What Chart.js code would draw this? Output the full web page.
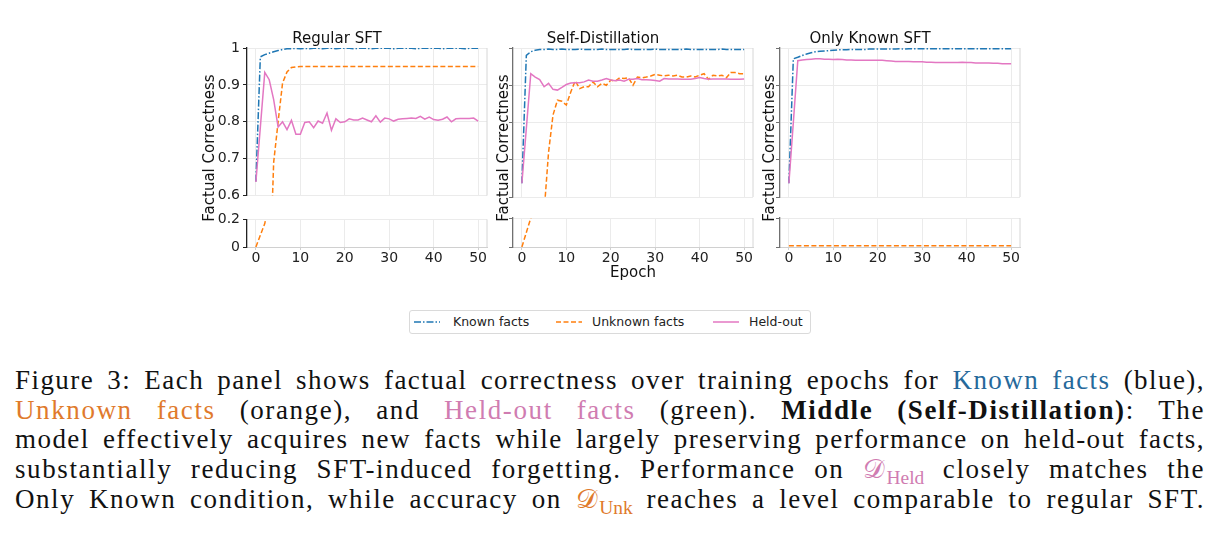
<!DOCTYPE html>
<html>
<head>
<meta charset="utf-8">
<script src="https://cdn.jsdelivr.net/npm/chart.js@4.4.1/dist/chart.umd.min.js"></script>
<style>
  body { margin: 0; background: #fff; width: 1222px; height: 552px; position: relative; overflow: hidden; font-family: "DejaVu Sans", sans-serif; }
  canvas { position: absolute; }
  .ylab { position: absolute; width: 300px; height: 18px; line-height: 18px; text-align: center; font-size: 15px; color: #111; transform: rotate(-90deg); }
  #legend { position: absolute; left: 409px; top: 310px; width: 400px; height: 22px; border: 1px solid #dadada; border-radius: 3px; }
  .lg { position: absolute; top: 0; height: 22px; line-height: 22px; font-size: 12.5px; color: #222; }
  #caption { position: absolute; left: 15px; top: 366px; width: 1190px; font-family: "Liberation Serif", serif; font-size: 27px; line-height: 29.7px; color: #111; }
  .ln { text-align: justify; text-align-last: justify; white-space: nowrap; }
  .kn { color: #26699b; }
  .un { color: #e07a2c; }
  .ho { color: #d07cb1; }
  sub { font-size: 0.72em; vertical-align: -0.3em; line-height: 0; letter-spacing: 0; }
</style>
</head>
<body>

<div id="caption">
  <div class="ln">Figure 3: Each panel shows factual correctness over training epochs for <span class="kn">Known facts</span> (blue),</div>
  <div class="ln"><span class="un">Unknown facts</span> (orange), and <span class="ho">Held-out facts</span> (green). <b>Middle (Self-Distillation)</b>: The</div>
  <div class="ln">model effectively acquires new facts while largely preserving performance on held-out facts,</div>
  <div class="ln">substantially reducing SFT-induced forgetting. Performance on <span class="ho">𝒟<sub>Held</sub></span> closely matches the</div>
  <div class="ln">Only Known condition, while accuracy on <span class="un">𝒟<sub>Unk</sub></span> reaches a level comparable to regular SFT.</div>
</div>

<div id="legend"></div>

<script>
// === DATA ===
const epochs = [0,1,2,3,4,5,6,7,8,9,10,11,12,13,14,15,16,17,18,19,20,21,22,23,24,25,26,27,28,29,30,
                31,32,33,34,35,36,37,38,39,40,41,42,43,44,45,46,47,48,49,50];
const xTickValues = [0, 10, 20, 30, 40, 50];
const upperTickValues = [0.6, 0.7, 0.8, 0.9, 1];
const lowerTickValues = [0, 0.2];
const panelTitles = ['Regular SFT', 'Self-Distillation', 'Only Known SFT'];
const seriesNames = ['Known facts', 'Unknown facts', 'Held-out'];

// Regular SFT
const sftKnown = [0.638,0.976,0.982,0.986,0.990,0.993,0.996,0.998,0.998,0.999,0.998,0.999,0.998,0.999,0.999,0.998,0.999,0.999,0.998,0.999,
                  0.999,0.999,0.998,0.999,0.999,0.999,0.998,0.999,0.999,0.999,0.999,0.998,0.999,0.999,0.999,0.999,0.998,0.999,0.999,0.999,
                  0.999,0.999,0.998,0.999,0.999,0.999,0.999,0.998,0.999,0.999,0.999];
const sftUnknown = [0.0,0.085,0.17,0.33,0.69,0.80,0.905,0.935,0.947,0.949,0.950,0.950,0.950,0.950,0.950,0.950,0.950,0.950,0.950,0.950,
                    0.950,0.950,0.950,0.950,0.950,0.950,0.950,0.950,0.950,0.950,0.950,0.950,0.950,0.950,0.950,0.950,0.950,0.950,0.950,0.950,
                    0.950,0.950,0.950,0.950,0.950,0.950,0.950,0.950,0.950,0.950,0.950];
const sftHeld = [0.637,0.785,0.934,0.914,0.860,0.786,0.800,0.779,0.804,0.766,0.766,0.798,0.800,0.784,0.802,0.796,0.824,0.777,0.808,0.798,
                 0.800,0.808,0.805,0.805,0.810,0.805,0.800,0.816,0.799,0.810,0.808,0.802,0.807,0.808,0.809,0.810,0.809,0.815,0.807,0.813,
                 0.806,0.804,0.807,0.813,0.800,0.808,0.809,0.809,0.809,0.810,0.802];

// Self-Distillation
const sdKnown = [0.637,0.980,0.990,0.994,0.996,0.996,0.997,0.996,0.996,0.997,0.996,0.996,0.996,0.997,0.996,0.996,0.996,0.996,0.997,0.996,
                 0.996,0.996,0.996,0.996,0.997,0.996,0.996,0.996,0.996,0.996,0.997,0.996,0.996,0.996,0.996,0.996,0.996,0.997,0.996,0.996,
                 0.996,0.996,0.996,0.996,0.996,0.997,0.996,0.996,0.996,0.996,0.996];
const sdUnknown = [0.0,0.10,0.20,0.33,0.45,0.56,0.72,0.82,0.860,0.857,0.847,0.882,0.912,0.891,0.896,0.896,0.909,0.896,0.905,0.900,
                   0.914,0.911,0.920,0.918,0.920,0.900,0.922,0.920,0.922,0.925,0.929,0.927,0.925,0.927,0.925,0.927,0.922,0.922,0.925,0.922,
                   0.927,0.931,0.916,0.927,0.925,0.927,0.920,0.934,0.934,0.931,0.931];
const sdHeld = [0.637,0.784,0.931,0.922,0.915,0.896,0.905,0.889,0.887,0.894,0.902,0.906,0.907,0.907,0.909,0.914,0.911,0.911,0.914,0.918,
                0.914,0.912,0.914,0.911,0.916,0.916,0.918,0.915,0.915,0.914,0.913,0.911,0.918,0.917,0.917,0.917,0.916,0.916,0.916,0.918,
                0.921,0.918,0.916,0.917,0.917,0.917,0.917,0.916,0.916,0.916,0.917];

// Only Known SFT
const okKnown = [0.637,0.971,0.975,0.980,0.984,0.987,0.990,0.991,0.992,0.993,0.994,0.995,0.995,0.995,0.996,0.996,0.996,0.996,0.997,0.997,
                 0.997,0.997,0.997,0.997,0.997,0.998,0.997,0.998,0.998,0.998,0.998,0.998,0.998,0.998,0.998,0.998,0.998,0.998,0.998,0.998,
                 0.998,0.998,0.998,0.998,0.998,0.998,0.998,0.998,0.998,0.998,0.998];
const okUnknown = [0.008,0.008,0.008,0.008,0.008,0.008,0.008,0.008,0.008,0.008,0.008,0.008,0.008,0.008,0.008,0.008,0.008,0.008,0.008,0.008,
                   0.008,0.008,0.008,0.008,0.008,0.008,0.008,0.008,0.008,0.008,0.008,0.008,0.008,0.008,0.008,0.008,0.008,0.008,0.008,0.008,
                   0.008,0.008,0.008,0.008,0.008,0.008,0.008,0.008,0.008,0.008,0.008];
const okHeld = [0.637,0.800,0.966,0.968,0.969,0.970,0.971,0.971,0.970,0.970,0.969,0.970,0.969,0.968,0.968,0.967,0.967,0.967,0.967,0.967,
                0.967,0.967,0.966,0.965,0.964,0.964,0.964,0.964,0.963,0.963,0.963,0.962,0.962,0.961,0.961,0.961,0.961,0.961,0.961,0.962,
                0.961,0.961,0.960,0.960,0.960,0.960,0.959,0.959,0.958,0.958,0.958];

// === STYLE ===
const C = { known: '#1f77b4', unknown: '#ff7f0e', held: '#e377c2' };
const DASH = { known: [7, 2, 1.5, 2], unknown: [5, 2.5], held: [] };
const YW = 60, PW = 240, PR = 8, XH = 40;
const FONT = 'DejaVu Sans';

const panels = [
  { title: panelTitles[0], known: sftKnown, unknown: sftUnknown, held: sftHeld, left: 247, yLabels: true,  spine: '#222', xTitle: false, ylabX: 209 },
  { title: panelTitles[1], known: sdKnown,  unknown: sdUnknown,  held: sdHeld,  left: 513, yLabels: false, spine: '#707070', xTitle: true, ylabX: 503 },
  { title: panelTitles[2], known: okKnown,  unknown: okUnknown,  held: okHeld,  left: 780, yLabels: false, spine: '#707070', xTitle: false, ylabX: 769 }
];

// light right spine
const rightSpine = {
  id: 'rightSpine',
  beforeDatasetsDraw(chart) {
    const a = chart.chartArea, ctx = chart.ctx;
    ctx.save();
    ctx.strokeStyle = '#d6d6d6';
    ctx.lineWidth = 1;
    ctx.beginPath();
    ctx.moveTo(a.right, a.top);
    ctx.lineTo(a.right, a.bottom);
    ctx.stroke();
    ctx.restore();
  }
};

function lineSets(p) {
  const pts = arr => epochs.map((e, i) => ({ x: e, y: arr[i] }));
  return [
    { label: seriesNames[0], data: pts(p.known),   borderColor: C.known,   borderDash: DASH.known,   order: 3 },
    { label: seriesNames[1], data: pts(p.unknown), borderColor: C.unknown, borderDash: DASH.unknown, order: 2 },
    { label: seriesNames[2], data: pts(p.held),    borderColor: C.held,    borderDash: DASH.held,    order: 1 }
  ].map(d => Object.assign(d, { borderWidth: 1.5, pointRadius: 0, fill: false, tension: 0 }));
}

function makeChart(p, upper) {
  const cv = document.createElement('canvas');
  const W = YW + PW + PR, H = upper ? 187 : 79;
  cv.width = W; cv.height = H;
  cv.style.width = W + 'px'; cv.style.height = H + 'px';
  cv.style.left = (p.left - YW) + 'px';
  cv.style.top = (upper ? 20 : 208) + 'px';
  document.body.appendChild(cv);

  new Chart(cv, {
    type: 'line',
    data: { datasets: lineSets(p) },
    options: {
      responsive: false,
      animation: false,
      devicePixelRatio: 1,
      layout: { padding: { top: 10, right: PR, bottom: upper ? 10 : 0, left: 0 } },
      plugins: {
        legend: { display: false },
        tooltip: { enabled: false },
        title: { display: upper, text: p.title, color: '#111', padding: 0,
                 font: { family: FONT, size: 15, weight: 'normal' } }
      },
      scales: {
        x: {
          type: 'linear', min: -2, max: 52,
          afterBuildTicks: s => { s.ticks = xTickValues.map(v => ({ value: v })); },
          afterFit: s => { s.height = upper ? 0 : XH; },
          grid: { color: '#ebebeb', drawTicks: !upper, tickLength: 3, tickColor: '#cfcfcf' },
          border: { display: !upper, color: '#d0d0d0' },
          ticks: { display: !upper, color: '#222', padding: 0, maxRotation: 0,
                   font: { family: FONT, size: 14 } },
          title: { display: !upper && p.xTitle, text: 'Epoch', color: '#111',
                   padding: { top: 0, bottom: 5 }, font: { family: FONT, size: 15 } }
        },
        y: {
          min: upper ? 0.6 : 0, max: upper ? 1 : 0.2,
          afterBuildTicks: s => { s.ticks = (upper ? upperTickValues : lowerTickValues).map(v => ({ value: v })); },
          afterFit: s => { s.width = YW; },
          grid: { color: '#ebebeb', tickColor: p.spine, tickLength: 4 },
          border: { color: p.spine, width: 1.3 },
          ticks: { display: p.yLabels, color: '#222', padding: 3,
                   font: { family: FONT, size: 14 }, callback: v => String(v) }
        }
      }
    },
    plugins: [rightSpine]
  });
}

panels.forEach(p => {
  makeChart(p, true);
  makeChart(p, false);
  const lab = document.createElement('div');
  lab.className = 'ylab';
  lab.textContent = 'Factual Correctness';
  lab.style.left = (p.ylabX - 150) + 'px';
  lab.style.top = (147.5 - 9) + 'px';
  document.body.appendChild(lab);
});

// === LEGEND ===
const legend = document.getElementById('legend');
const legendPos = [{ line: 4, text: 43 }, { line: 146, text: 182 }, { line: 303, text: 339 }];
['known', 'unknown', 'held'].forEach((k, i) => {
  const ns = 'http://www.w3.org/2000/svg';
  const svg = document.createElementNS(ns, 'svg');
  svg.setAttribute('width', 27); svg.setAttribute('height', 22);
  svg.style.position = 'absolute';
  svg.style.left = legendPos[i].line + 'px'; svg.style.top = '0px';
  const ln = document.createElementNS(ns, 'line');
  ln.setAttribute('x1', 0); ln.setAttribute('x2', 26);
  ln.setAttribute('y1', 11); ln.setAttribute('y2', 11);
  ln.setAttribute('stroke', C[k]); ln.setAttribute('stroke-width', 1.5);
  if (DASH[k].length) ln.setAttribute('stroke-dasharray', DASH[k].join(' '));
  svg.appendChild(ln);
  legend.appendChild(svg);
  const t = document.createElement('div');
  t.className = 'lg';
  t.style.left = legendPos[i].text + 'px';
  t.textContent = seriesNames[i];
  legend.appendChild(t);
});

// caption: widen glyph spacing a little so each line fills the column like the wide serif of the original
document.querySelectorAll('#caption .ln').forEach(ln => {
  const probe = document.createElement('span');
  probe.innerHTML = ln.innerHTML;
  probe.style.whiteSpace = 'nowrap';
  probe.style.position = 'absolute';
  probe.style.visibility = 'hidden';
  ln.appendChild(probe);
  const w0 = probe.getBoundingClientRect().width;
  ln.removeChild(probe);
  const text = ln.textContent;
  const gaps = (text.trim().match(/ +/g) || []).length;
  const chars = text.trim().length;
  const target = 1190 - gaps * 5;
  const ls = Math.max(0, Math.min(1.6, (target - w0) / chars));
  ln.style.letterSpacing = ls.toFixed(2) + 'px';
});
</script>
</body>
</html>
